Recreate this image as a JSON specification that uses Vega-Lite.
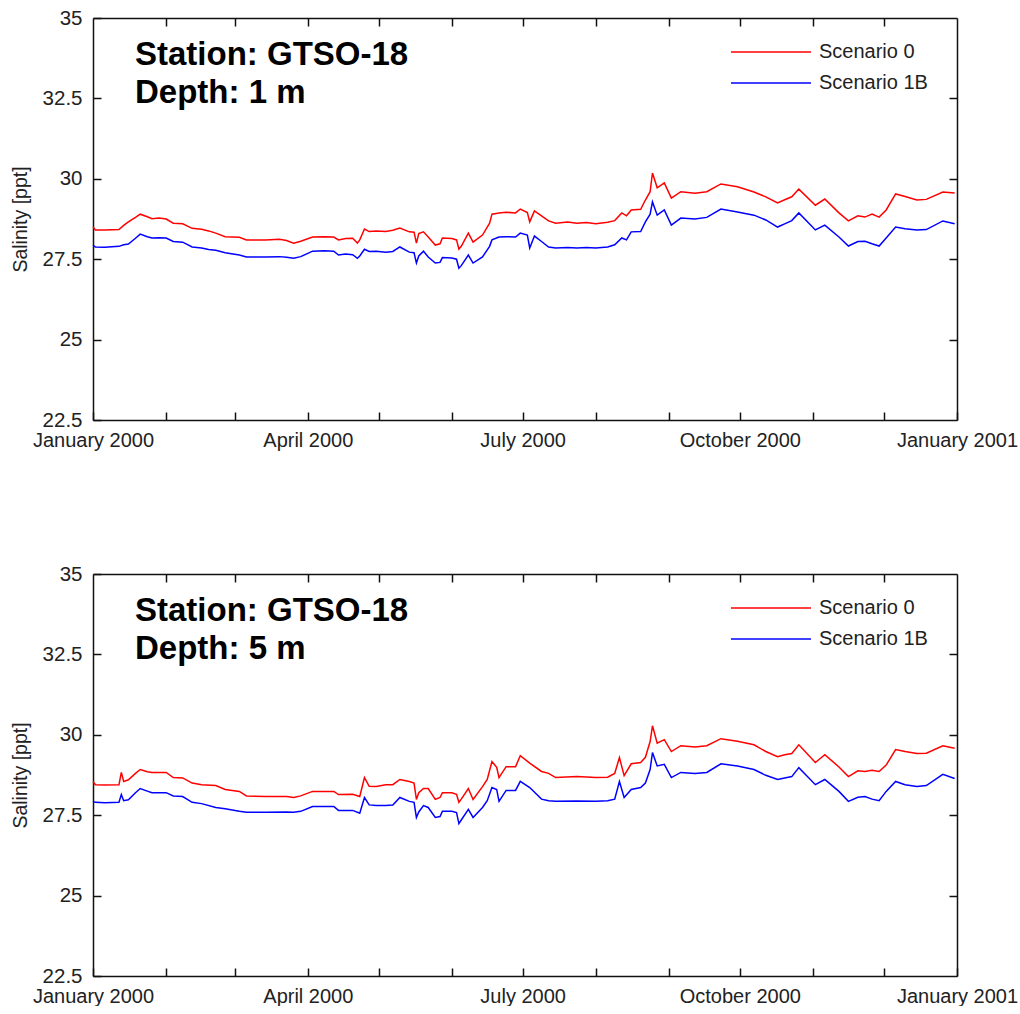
{
  "$schema": "https://vega.github.io/schema/vega-lite/v6.json",
  "padding": {"left": 10, "top": 8, "right": 0, "bottom": 0},
  "background": "white",
  "config": {
    "view": {"stroke": null},
    "font": "Liberation Sans",
    "axis": {
      "labelFont": "Liberation Sans", "labelFontSize": 20.5, "labelColor": "#222",
      "titleFont": "Liberation Sans", "titleFontSize": 19.5, "titleFontWeight": "normal", "titleColor": "#222",
      "domainColor": "#111", "domainWidth": 1.5, "tickColor": "#111", "tickWidth": 1.5, "tickSize": -8, "grid": false
    }
  },
  "datasets": {
    "d1": [
      {"date":"2000-01-01","s0":28.50,"s1b":27.94},{"date":"2000-01-02","s0":28.41,"s1b":27.88},{"date":"2000-01-06","s0":28.41,"s1b":27.87},{"date":"2000-01-12","s0":28.42,"s1b":27.90},{"date":"2000-01-14","s0":28.55,"s1b":27.95},{"date":"2000-01-16","s0":28.66,"s1b":27.97},{"date":"2000-01-19","s0":28.80,"s1b":28.15},{"date":"2000-01-21","s0":28.90,"s1b":28.28},{"date":"2000-01-24","s0":28.82,"s1b":28.20},{"date":"2000-01-26","s0":28.76,"s1b":28.16},{"date":"2000-01-29","s0":28.78,"s1b":28.17},
      {"date":"2000-02-01","s0":28.75,"s1b":28.16},{"date":"2000-02-04","s0":28.62,"s1b":28.05},{"date":"2000-02-08","s0":28.60,"s1b":28.03},{"date":"2000-02-12","s0":28.46,"s1b":27.88},{"date":"2000-02-16","s0":28.43,"s1b":27.85},{"date":"2000-02-19","s0":28.38,"s1b":27.80},{"date":"2000-02-22","s0":28.31,"s1b":27.78},{"date":"2000-02-26","s0":28.20,"s1b":27.70},
      {"date":"2000-03-03","s0":28.18,"s1b":27.63},{"date":"2000-03-06","s0":28.10,"s1b":27.57},{"date":"2000-03-14","s0":28.10,"s1b":27.57},{"date":"2000-03-20","s0":28.12,"s1b":27.58},{"date":"2000-03-23","s0":28.08,"s1b":27.56},{"date":"2000-03-26","s0":28.00,"s1b":27.53},{"date":"2000-03-29","s0":28.06,"s1b":27.58},
      {"date":"2000-04-03","s0":28.19,"s1b":27.75},{"date":"2000-04-08","s0":28.20,"s1b":27.76},{"date":"2000-04-12","s0":28.19,"s1b":27.75},{"date":"2000-04-14","s0":28.10,"s1b":27.63},{"date":"2000-04-17","s0":28.14,"s1b":27.66},{"date":"2000-04-20","s0":28.15,"s1b":27.64},{"date":"2000-04-22","s0":28.00,"s1b":27.53},{"date":"2000-04-23","s0":28.10,"s1b":27.60},{"date":"2000-04-25","s0":28.44,"s1b":27.81},{"date":"2000-04-27","s0":28.36,"s1b":27.74},{"date":"2000-04-30","s0":28.38,"s1b":27.75},
      {"date":"2000-05-04","s0":28.36,"s1b":27.72},{"date":"2000-05-07","s0":28.40,"s1b":27.74},{"date":"2000-05-10","s0":28.47,"s1b":27.88},{"date":"2000-05-14","s0":28.35,"s1b":27.72},{"date":"2000-05-16","s0":28.34,"s1b":27.70},{"date":"2000-05-17","s0":28.00,"s1b":27.38},{"date":"2000-05-18","s0":28.30,"s1b":27.60},{"date":"2000-05-20","s0":28.35,"s1b":27.75},{"date":"2000-05-22","s0":28.19,"s1b":27.57},{"date":"2000-05-25","s0":27.94,"s1b":27.38},{"date":"2000-05-27","s0":27.98,"s1b":27.40},{"date":"2000-05-28","s0":28.16,"s1b":27.55},
      {"date":"2000-06-01","s0":28.14,"s1b":27.54},{"date":"2000-06-03","s0":28.10,"s1b":27.50},{"date":"2000-06-04","s0":27.81,"s1b":27.22},{"date":"2000-06-05","s0":27.90,"s1b":27.30},{"date":"2000-06-08","s0":28.31,"s1b":27.63},{"date":"2000-06-10","s0":28.03,"s1b":27.38},{"date":"2000-06-14","s0":28.25,"s1b":27.57},{"date":"2000-06-17","s0":28.62,"s1b":27.90},{"date":"2000-06-18","s0":28.90,"s1b":28.10},{"date":"2000-06-21","s0":28.94,"s1b":28.19},{"date":"2000-06-24","s0":28.96,"s1b":28.20},{"date":"2000-06-28","s0":28.94,"s1b":28.19},{"date":"2000-06-30","s0":29.06,"s1b":28.31},
      {"date":"2000-07-03","s0":28.95,"s1b":28.25},{"date":"2000-07-04","s0":28.66,"s1b":27.85},{"date":"2000-07-06","s0":29.00,"s1b":28.22},{"date":"2000-07-09","s0":28.85,"s1b":28.05},{"date":"2000-07-12","s0":28.69,"s1b":27.88},{"date":"2000-07-15","s0":28.62,"s1b":27.85},{"date":"2000-07-20","s0":28.66,"s1b":27.86},{"date":"2000-07-24","s0":28.62,"s1b":27.85},{"date":"2000-07-28","s0":28.64,"s1b":27.86},
      {"date":"2000-08-01","s0":28.60,"s1b":27.85},{"date":"2000-08-06","s0":28.65,"s1b":27.88},{"date":"2000-08-09","s0":28.70,"s1b":27.95},{"date":"2000-08-12","s0":28.94,"s1b":28.16},{"date":"2000-08-14","s0":28.85,"s1b":28.10},{"date":"2000-08-16","s0":29.03,"s1b":28.35},{"date":"2000-08-20","s0":29.05,"s1b":28.36},{"date":"2000-08-22","s0":29.34,"s1b":28.66},{"date":"2000-08-24","s0":29.60,"s1b":28.90},{"date":"2000-08-25","s0":30.18,"s1b":29.28},{"date":"2000-08-27","s0":29.72,"s1b":28.87},{"date":"2000-08-30","s0":29.87,"s1b":29.03},
      {"date":"2000-09-02","s0":29.40,"s1b":28.56},{"date":"2000-09-06","s0":29.60,"s1b":28.78},{"date":"2000-09-12","s0":29.55,"s1b":28.75},{"date":"2000-09-17","s0":29.60,"s1b":28.80},{"date":"2000-09-23","s0":29.84,"s1b":29.06},{"date":"2000-09-30","s0":29.75,"s1b":28.97},
      {"date":"2000-10-07","s0":29.59,"s1b":28.87},{"date":"2000-10-12","s0":29.44,"s1b":28.72},{"date":"2000-10-17","s0":29.25,"s1b":28.50},{"date":"2000-10-20","s0":29.35,"s1b":28.60},{"date":"2000-10-23","s0":29.44,"s1b":28.70},{"date":"2000-10-26","s0":29.68,"s1b":28.94},
      {"date":"2000-11-02","s0":29.18,"s1b":28.41},{"date":"2000-11-06","s0":29.37,"s1b":28.56},{"date":"2000-11-12","s0":28.94,"s1b":28.19},{"date":"2000-11-16","s0":28.69,"s1b":27.91},{"date":"2000-11-20","s0":28.85,"s1b":28.05},{"date":"2000-11-23","s0":28.81,"s1b":28.06},{"date":"2000-11-26","s0":28.90,"s1b":27.98},{"date":"2000-11-29","s0":28.81,"s1b":27.91},
      {"date":"2000-12-02","s0":29.03,"s1b":28.16},{"date":"2000-12-06","s0":29.53,"s1b":28.50},{"date":"2000-12-10","s0":29.45,"s1b":28.45},{"date":"2000-12-15","s0":29.34,"s1b":28.41},{"date":"2000-12-19","s0":29.36,"s1b":28.42},{"date":"2000-12-26","s0":29.59,"s1b":28.69},{"date":"2000-12-31","s0":29.56,"s1b":28.60}
    ],
    "d5": [
      {"date":"2000-01-01","s0":28.55,"s1b":27.93},{"date":"2000-01-02","s0":28.45,"s1b":27.90},{"date":"2000-01-06","s0":28.44,"s1b":27.89},{"date":"2000-01-12","s0":28.45,"s1b":27.90},{"date":"2000-01-13","s0":28.83,"s1b":28.14},{"date":"2000-01-14","s0":28.55,"s1b":27.95},{"date":"2000-01-16","s0":28.60,"s1b":27.98},{"date":"2000-01-19","s0":28.80,"s1b":28.20},{"date":"2000-01-21","s0":28.92,"s1b":28.33},{"date":"2000-01-24","s0":28.85,"s1b":28.25},{"date":"2000-01-26","s0":28.83,"s1b":28.20},
      {"date":"2000-02-01","s0":28.83,"s1b":28.20},{"date":"2000-02-04","s0":28.67,"s1b":28.10},{"date":"2000-02-08","s0":28.66,"s1b":28.08},{"date":"2000-02-12","s0":28.50,"s1b":27.90},{"date":"2000-02-16","s0":28.45,"s1b":27.86},{"date":"2000-02-22","s0":28.42,"s1b":27.74},{"date":"2000-02-26","s0":28.30,"s1b":27.70},
      {"date":"2000-03-03","s0":28.24,"s1b":27.62},{"date":"2000-03-06","s0":28.10,"s1b":27.59},{"date":"2000-03-14","s0":28.08,"s1b":27.59},{"date":"2000-03-23","s0":28.08,"s1b":27.60},{"date":"2000-03-26","s0":28.05,"s1b":27.59},{"date":"2000-03-29","s0":28.10,"s1b":27.62},
      {"date":"2000-04-03","s0":28.24,"s1b":27.77},{"date":"2000-04-12","s0":28.24,"s1b":27.77},{"date":"2000-04-14","s0":28.14,"s1b":27.65},{"date":"2000-04-20","s0":28.15,"s1b":27.65},{"date":"2000-04-23","s0":28.08,"s1b":27.56},{"date":"2000-04-25","s0":28.67,"s1b":28.05},{"date":"2000-04-27","s0":28.40,"s1b":27.82},{"date":"2000-04-30","s0":28.39,"s1b":27.80},
      {"date":"2000-05-04","s0":28.45,"s1b":27.80},{"date":"2000-05-07","s0":28.45,"s1b":27.82},{"date":"2000-05-10","s0":28.61,"s1b":28.05},{"date":"2000-05-14","s0":28.55,"s1b":27.93},{"date":"2000-05-16","s0":28.50,"s1b":27.90},{"date":"2000-05-17","s0":27.99,"s1b":27.43},{"date":"2000-05-18","s0":28.20,"s1b":27.60},{"date":"2000-05-20","s0":28.33,"s1b":27.80},{"date":"2000-05-22","s0":28.33,"s1b":27.74},{"date":"2000-05-25","s0":27.99,"s1b":27.43},{"date":"2000-05-27","s0":28.05,"s1b":27.46},{"date":"2000-05-28","s0":28.20,"s1b":27.62},
      {"date":"2000-06-01","s0":28.20,"s1b":27.62},{"date":"2000-06-03","s0":28.15,"s1b":27.58},{"date":"2000-06-04","s0":27.90,"s1b":27.24},{"date":"2000-06-05","s0":28.00,"s1b":27.35},{"date":"2000-06-08","s0":28.33,"s1b":27.68},{"date":"2000-06-10","s0":27.99,"s1b":27.43},{"date":"2000-06-14","s0":28.39,"s1b":27.74},{"date":"2000-06-16","s0":28.61,"s1b":27.95},{"date":"2000-06-18","s0":29.17,"s1b":28.36},{"date":"2000-06-20","s0":28.99,"s1b":28.30},{"date":"2000-06-21","s0":28.67,"s1b":27.93},{"date":"2000-06-24","s0":29.01,"s1b":28.27},{"date":"2000-06-28","s0":29.01,"s1b":28.27},{"date":"2000-06-30","s0":29.35,"s1b":28.55},
      {"date":"2000-07-04","s0":29.12,"s1b":28.36},{"date":"2000-07-09","s0":28.86,"s1b":28.00},{"date":"2000-07-12","s0":28.80,"s1b":27.95},{"date":"2000-07-15","s0":28.67,"s1b":27.93},{"date":"2000-07-24","s0":28.70,"s1b":27.94},
      {"date":"2000-08-01","s0":28.67,"s1b":27.93},{"date":"2000-08-06","s0":28.68,"s1b":27.95},{"date":"2000-08-09","s0":28.80,"s1b":28.00},{"date":"2000-08-11","s0":29.29,"s1b":28.55},{"date":"2000-08-13","s0":28.73,"s1b":28.05},{"date":"2000-08-16","s0":29.10,"s1b":28.30},{"date":"2000-08-20","s0":29.14,"s1b":28.36},{"date":"2000-08-22","s0":29.30,"s1b":28.50},{"date":"2000-08-24","s0":29.79,"s1b":28.92},{"date":"2000-08-25","s0":30.28,"s1b":29.45},{"date":"2000-08-27","s0":29.74,"s1b":29.03},{"date":"2000-08-30","s0":29.85,"s1b":29.08},
      {"date":"2000-09-02","s0":29.48,"s1b":28.67},{"date":"2000-09-06","s0":29.66,"s1b":28.83},{"date":"2000-09-12","s0":29.62,"s1b":28.80},{"date":"2000-09-17","s0":29.66,"s1b":28.83},{"date":"2000-09-23","s0":29.88,"s1b":29.10},{"date":"2000-09-30","s0":29.80,"s1b":29.03},
      {"date":"2000-10-07","s0":29.69,"s1b":28.92},{"date":"2000-10-12","s0":29.48,"s1b":28.74},{"date":"2000-10-17","s0":29.32,"s1b":28.61},{"date":"2000-10-20","s0":29.38,"s1b":28.66},{"date":"2000-10-23","s0":29.42,"s1b":28.70},{"date":"2000-10-26","s0":29.69,"s1b":28.98},
      {"date":"2000-11-02","s0":29.14,"s1b":28.45},{"date":"2000-11-06","s0":29.38,"s1b":28.61},{"date":"2000-11-12","s0":29.00,"s1b":28.24},{"date":"2000-11-16","s0":28.70,"s1b":27.93},{"date":"2000-11-20","s0":28.88,"s1b":28.06},{"date":"2000-11-23","s0":28.86,"s1b":28.08},{"date":"2000-11-26","s0":28.90,"s1b":28.00},{"date":"2000-11-29","s0":28.86,"s1b":27.95},
      {"date":"2000-12-02","s0":29.06,"s1b":28.24},{"date":"2000-12-06","s0":29.54,"s1b":28.55},{"date":"2000-12-10","s0":29.48,"s1b":28.45},{"date":"2000-12-15","s0":29.42,"s1b":28.39},{"date":"2000-12-19","s0":29.43,"s1b":28.42},{"date":"2000-12-26","s0":29.66,"s1b":28.77},{"date":"2000-12-31","s0":29.58,"s1b":28.64}
    ]
  },
  "spacing": 154,
  "bounds": "flush",
  "resolve": {"scale": {"color": "independent"}, "legend": {"color": "independent"}},
  "vconcat": [
    {
      "width": 864, "height": 402,
      "title": {"text": ["Station: GTSO-18", "Depth: 1 m"], "anchor": "start", "frame": "group", "orient": "top", "dx": 42, "offset": -102, "baseline": "top", "fontSize": 33, "fontWeight": "bold", "font": "Liberation Sans", "color": "black", "lineHeight": 38},
      "data": {"name": "d1"},
      "transform": [{"fold": ["s0", "s1b"], "as": ["scenario", "salinity"]}],
      "layer": [
        {
          "mark": {"type": "line", "strokeWidth": 1.5},
          "encoding": {
            "x": {"field": "date", "type": "temporal", "scale": {"type": "utc", "domain": [{"year": 2000, "month": 1, "date": 1, "utc": true}, {"year": 2001, "month": 1, "date": 1, "utc": true}]},
                  "axis": {"orient": "bottom", "title": null, "labelPadding": 18, "labelFontSize": 20, "values": [{"year":2000,"month":1,"date":1,"utc":true},{"year":2000,"month":2,"date":1,"utc":true},{"year":2000,"month":3,"date":1,"utc":true},{"year":2000,"month":4,"date":1,"utc":true},{"year":2000,"month":5,"date":1,"utc":true},{"year":2000,"month":6,"date":1,"utc":true},{"year":2000,"month":7,"date":1,"utc":true},{"year":2000,"month":8,"date":1,"utc":true},{"year":2000,"month":9,"date":1,"utc":true},{"year":2000,"month":10,"date":1,"utc":true},{"year":2000,"month":11,"date":1,"utc":true},{"year":2000,"month":12,"date":1,"utc":true},{"year":2001,"month":1,"date":1,"utc":true}],
                           "labelExpr": "utcmonth(datum.value) % 3 == 0 ? utcFormat(datum.value, '%B %Y') : ''", "labelOverlap": false, "labelFlush": false}},
            "y": {"field": "salinity", "type": "quantitative", "scale": {"domain": [22.5, 35], "nice": false, "zero": false},
                  "axis": {"orient": "left", "title": "Salinity [ppt]", "values": [22.5, 25, 27.5, 30, 32.5, 35], "format": ".1~f", "labelPadding": 19, "titlePadding": 12, "labelFlush": false}},
            "color": {"field": "scenario", "type": "nominal", "scale": {"domain": ["s0", "s1b"], "range": ["#ff0000", "#0000ff"]},
                      "legend": {"title": null, "orient": "none", "legendX": 697, "legendY": 23, "symbolType": "M-7,0H1", "symbolSize": 400, "symbolStrokeWidth": 1.5, "labelFont": "Liberation Sans", "labelFontSize": 20, "labelColor": "#222", "labelOffset": 7, "rowPadding": 10, "padding": 0,
                                 "labelExpr": "datum.label == 's0' ? 'Scenario 0' : 'Scenario 1B'"}}
          }
        },
        {
          "mark": {"type": "line", "strokeOpacity": 0},
          "encoding": {
            "x": {"field": "date", "type": "temporal", "axis": {"orient": "top", "title": null, "labels": false, "values": [{"year":2000,"month":2,"date":1,"utc":true},{"year":2000,"month":3,"date":1,"utc":true},{"year":2000,"month":4,"date":1,"utc":true},{"year":2000,"month":5,"date":1,"utc":true},{"year":2000,"month":6,"date":1,"utc":true},{"year":2000,"month":7,"date":1,"utc":true},{"year":2000,"month":8,"date":1,"utc":true},{"year":2000,"month":9,"date":1,"utc":true},{"year":2000,"month":10,"date":1,"utc":true},{"year":2000,"month":11,"date":1,"utc":true},{"year":2000,"month":12,"date":1,"utc":true}]}},
            "y": {"field": "salinity", "type": "quantitative", "axis": {"orient": "right", "title": null, "labels": false, "values": [25, 27.5, 30, 32.5]}}
          }
        }
      ],
      "resolve": {"axis": {"x": "independent", "y": "independent"}}
    },
    {
      "width": 864, "height": 402,
      "title": {"text": ["Station: GTSO-18", "Depth: 5 m"], "anchor": "start", "frame": "group", "orient": "top", "dx": 42, "offset": -102, "baseline": "top", "fontSize": 33, "fontWeight": "bold", "font": "Liberation Sans", "color": "black", "lineHeight": 38},
      "data": {"name": "d5"},
      "transform": [{"fold": ["s0", "s1b"], "as": ["scenario", "salinity"]}],
      "layer": [
        {
          "mark": {"type": "line", "strokeWidth": 1.5},
          "encoding": {
            "x": {"field": "date", "type": "temporal", "scale": {"type": "utc", "domain": [{"year": 2000, "month": 1, "date": 1, "utc": true}, {"year": 2001, "month": 1, "date": 1, "utc": true}]},
                  "axis": {"orient": "bottom", "title": null, "labelPadding": 18, "labelFontSize": 20, "values": [{"year":2000,"month":1,"date":1,"utc":true},{"year":2000,"month":2,"date":1,"utc":true},{"year":2000,"month":3,"date":1,"utc":true},{"year":2000,"month":4,"date":1,"utc":true},{"year":2000,"month":5,"date":1,"utc":true},{"year":2000,"month":6,"date":1,"utc":true},{"year":2000,"month":7,"date":1,"utc":true},{"year":2000,"month":8,"date":1,"utc":true},{"year":2000,"month":9,"date":1,"utc":true},{"year":2000,"month":10,"date":1,"utc":true},{"year":2000,"month":11,"date":1,"utc":true},{"year":2000,"month":12,"date":1,"utc":true},{"year":2001,"month":1,"date":1,"utc":true}],
                           "labelExpr": "utcmonth(datum.value) % 3 == 0 ? utcFormat(datum.value, '%B %Y') : ''", "labelOverlap": false, "labelFlush": false}},
            "y": {"field": "salinity", "type": "quantitative", "scale": {"domain": [22.5, 35], "nice": false, "zero": false},
                  "axis": {"orient": "left", "title": "Salinity [ppt]", "values": [22.5, 25, 27.5, 30, 32.5, 35], "format": ".1~f", "labelPadding": 19, "titlePadding": 12, "labelFlush": false}},
            "color": {"field": "scenario", "type": "nominal", "scale": {"domain": ["s0", "s1b"], "range": ["#ff0000", "#0000ff"]},
                      "legend": {"title": null, "orient": "none", "legendX": 697, "legendY": 23, "symbolType": "M-7,0H1", "symbolSize": 400, "symbolStrokeWidth": 1.5, "labelFont": "Liberation Sans", "labelFontSize": 20, "labelColor": "#222", "labelOffset": 7, "rowPadding": 10, "padding": 0,
                                 "labelExpr": "datum.label == 's0' ? 'Scenario 0' : 'Scenario 1B'"}}
          }
        },
        {
          "mark": {"type": "line", "strokeOpacity": 0},
          "encoding": {
            "x": {"field": "date", "type": "temporal", "axis": {"orient": "top", "title": null, "labels": false, "values": [{"year":2000,"month":2,"date":1,"utc":true},{"year":2000,"month":3,"date":1,"utc":true},{"year":2000,"month":4,"date":1,"utc":true},{"year":2000,"month":5,"date":1,"utc":true},{"year":2000,"month":6,"date":1,"utc":true},{"year":2000,"month":7,"date":1,"utc":true},{"year":2000,"month":8,"date":1,"utc":true},{"year":2000,"month":9,"date":1,"utc":true},{"year":2000,"month":10,"date":1,"utc":true},{"year":2000,"month":11,"date":1,"utc":true},{"year":2000,"month":12,"date":1,"utc":true}]}},
            "y": {"field": "salinity", "type": "quantitative", "axis": {"orient": "right", "title": null, "labels": false, "values": [25, 27.5, 30, 32.5]}}
          }
        }
      ],
      "resolve": {"axis": {"x": "independent", "y": "independent"}}
    }
  ]
}
